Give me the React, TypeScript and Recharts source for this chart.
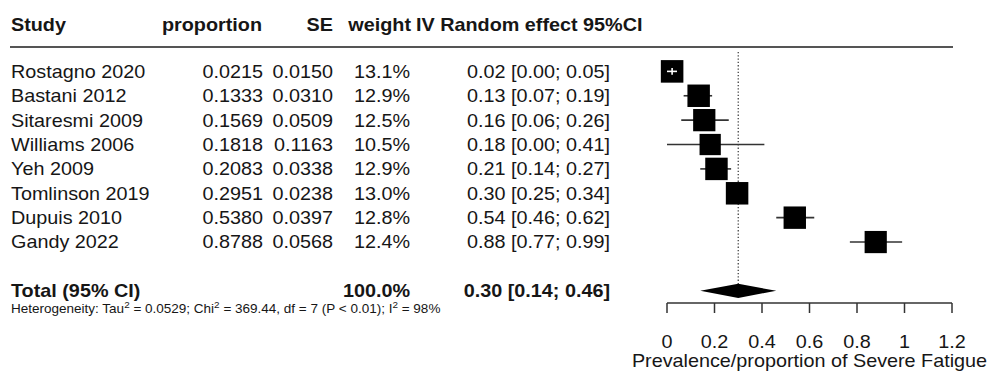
import React from "react";
import { ScatterChart, Scatter, XAxis, YAxis, ReferenceLine, ReferenceArea } from "recharts";

const studies = [
  "Rostagno 2020",
  "Bastani 2012",
  "Sitaresmi 2009",
  "Williams 2006",
  "Yeh 2009",
  "Tomlinson 2019",
  "Dupuis 2010",
  "Gandy 2022",
];
const proportion = [0.0215, 0.1333, 0.1569, 0.1818, 0.2083, 0.2951, 0.538, 0.8788];
const stdErr = [0.015, 0.031, 0.0509, 0.1163, 0.0338, 0.0238, 0.0397, 0.0568];
const weight = [13.1, 12.9, 12.5, 10.5, 12.9, 13.0, 12.8, 12.4];
const ciLower = [0.0, 0.07, 0.06, 0.0, 0.14, 0.25, 0.46, 0.77];
const ciUpper = [0.05, 0.19, 0.26, 0.41, 0.27, 0.34, 0.62, 0.99];

const pooledEst = 0.3;
const pooledLower = 0.14;
const pooledUpper = 0.46;
const totalWeight = 100.0;

const tau2 = 0.0529;
const chi2 = 369.44;
const df = 7;
const pText = "P < 0.01";
const i2 = 98;

const xTicks = [0, 0.2, 0.4, 0.6, 0.8, 1, 1.2];
const xTitle = "Prevalence/proportion of Severe Fatigue";

const HEADER_ROW = -1;
const TOTAL_ROW = 9;
const rowTicks = [HEADER_ROW, ...studies.map((_, i) => i), TOTAL_ROW];

const rows = studies.map((name, i) => ({ name, x: proportion[i], y: i, weight: weight[i] }));

const FONT = "'Liberation Sans', Arial, Helvetica, sans-serif";
const SX = 1.1;
const INK = "#161616";

function Txt({ x, y, anchor = "start", bold = false, size = 18, children }: any) {
  return (
    <text
      transform={`translate(${x},${y}) scale(${SX},1)`}
      textAnchor={anchor}
      fontFamily={FONT}
      fontSize={size}
      fontWeight={bold ? 700 : 400}
      fill={INK}
    >
      {children}
    </text>
  );
}

const ci = (e: number, lo: number, hi: number) =>
  `${e.toFixed(2)} [${lo.toFixed(2)}; ${hi.toFixed(2)}]`;

function TableTick(props: any) {
  const { y, payload } = props;
  const v = payload.value;
  const base = y + 6.4;

  if (v === HEADER_ROW) {
    const hb = y - 22.3 + 6.4;
    return (
      <g>
        <Txt x={11} y={hb} bold>Study</Txt>
        <Txt x={262} y={hb} anchor="end" bold>proportion</Txt>
        <Txt x={333} y={hb} anchor="end" bold>SE</Txt>
        <Txt x={411} y={hb} anchor="end" bold>weight</Txt>
        <Txt x={416} y={hb} bold>IV Random effect 95%CI</Txt>
        <line x1={10} x2={953} y1={y} y2={y} stroke="#555" strokeWidth={2} />
      </g>
    );
  }

  if (v === TOTAL_ROW) {
    const sb = y + 22;
    return (
      <g>
        <Txt x={11} y={base} bold>Total (95% CI)</Txt>
        <Txt x={410} y={base} anchor="end" bold>{totalWeight.toFixed(1)}%</Txt>
        <Txt x={610} y={base} anchor="end" bold>{ci(pooledEst, pooledLower, pooledUpper)}</Txt>
        <Txt x={11} y={sb} size={12.3}>
          Heterogeneity: Tau<tspan dy={-5} fontSize={9}>2</tspan>
          <tspan dy={5}>{` = ${tau2.toFixed(4)}; Chi`}</tspan>
          <tspan dy={-5} fontSize={9}>2</tspan>
          <tspan dy={5}>{` = ${chi2.toFixed(2)}, df = ${df} (${pText}); I`}</tspan>
          <tspan dy={-5} fontSize={9}>2</tspan>
          <tspan dy={5}>{` = ${i2}%`}</tspan>
        </Txt>
      </g>
    );
  }

  const i = v as number;
  if (i < 0 || i >= studies.length) return null;
  return (
    <g>
      <Txt x={11} y={base}>{studies[i]}</Txt>
      <Txt x={263} y={base} anchor="end">{proportion[i].toFixed(4)}</Txt>
      <Txt x={333} y={base} anchor="end">{stdErr[i].toFixed(4)}</Txt>
      <Txt x={410} y={base} anchor="end">{weight[i].toFixed(1)}%</Txt>
      <Txt x={610} y={base} anchor="end">{ci(proportion[i], ciLower[i], ciUpper[i])}</Txt>
    </g>
  );
}

function AxisTick(props: any) {
  const { x, y, payload } = props;
  return (
    <Txt x={x} y={y + 33} anchor="middle">
      {String(payload.value)}
    </Txt>
  );
}

function AxisTitle(props: any) {
  const vb = props.viewBox ?? { x: 667, y: 303, width: 285 };
  return (
    <Txt x={vb.x + vb.width / 2} y={vb.y + 64} anchor="middle">
      {xTitle}
    </Txt>
  );
}

function BoxShape(props: any) {
  const { cx, cy, payload } = props;
  const s = 16 + payload.weight / 2;
  return <rect x={cx - s / 2} y={cy - s / 2} width={s} height={s} fill="#000" />;
}

function DiamondShape(props: any) {
  const { x, y, width, height } = props;
  const peak = x + ((pooledEst - pooledLower) / (pooledUpper - pooledLower)) * width;
  const cy = y + height / 2;
  return (
    <polygon
      points={`${x},${cy} ${peak},${y} ${x + width},${cy} ${peak},${y + height}`}
      fill="#000"
    />
  );
}

export default function App() {
  return (
    <div style={{ width: 991, height: 373, background: "#fff" }}>
      <style>{"body{margin:0}"}</style>
      <ScatterChart width={991} height={373} margin={{ top: 47, right: 39, bottom: 0, left: 0 }}>
        <XAxis
          type="number"
          dataKey="x"
          domain={[0, 1.2]}
          ticks={xTicks}
          interval={0}
          height={70}
          tickSize={10}
          tickMargin={2}
          stroke="#333"
          strokeWidth={1.5}
          tick={<AxisTick />}
          label={{ content: AxisTitle }}
        />
        <YAxis
          type="number"
          dataKey="y"
          domain={[HEADER_ROW, 9.5]}
          reversed
          ticks={rowTicks}
          interval={0}
          width={667}
          axisLine={false}
          tickLine={false}
          tick={<TableTick />}
        />
        <ReferenceLine
          segment={[
            { x: pooledEst, y: -0.8 },
            { x: pooledEst, y: TOTAL_ROW },
          ]}
          stroke="#444"
          strokeWidth={1.3}
          strokeDasharray="1.3 2"
          ifOverflow="visible"
          zIndex={100}
        />
        {rows.map((r, i) => (
          <ReferenceLine
            key={`ci-${r.name}`}
            segment={[
              { x: ciLower[i], y: i },
              { x: ciUpper[i], y: i },
            ]}
            stroke="#333"
            strokeWidth={1.6}
            ifOverflow="visible"
            zIndex={500}
          />
        ))}
        <Scatter
          data={rows}
          shape={<BoxShape />}
          isAnimationActive={false}
          zIndex={600}
        />
        <ReferenceArea
          x1={pooledLower}
          x2={pooledUpper}
          y1={TOTAL_ROW - 0.29}
          y2={TOTAL_ROW + 0.29}
          shape={DiamondShape}
          ifOverflow="visible"
          zIndex={650}
        />
        {rows
          .filter((_, i) => ciUpper[i] - ciLower[i] <= 0.05)
          .map((r) => {
            const i = r.y;
            return (
              <React.Fragment key={`in-${r.name}`}>
                <ReferenceLine
                  segment={[
                    { x: ciLower[i], y: i },
                    { x: ciUpper[i] - 0.008, y: i },
                  ]}
                  stroke="#fff"
                  strokeWidth={1.6}
                  ifOverflow="visible"
                  zIndex={700}
                />
                <ReferenceLine
                  segment={[
                    { x: proportion[i], y: i - 0.14 },
                    { x: proportion[i], y: i + 0.14 },
                  ]}
                  stroke="#fff"
                  strokeWidth={1.6}
                  ifOverflow="visible"
                  zIndex={700}
                />
              </React.Fragment>
            );
          })}
      </ScatterChart>
    </div>
  );
}
